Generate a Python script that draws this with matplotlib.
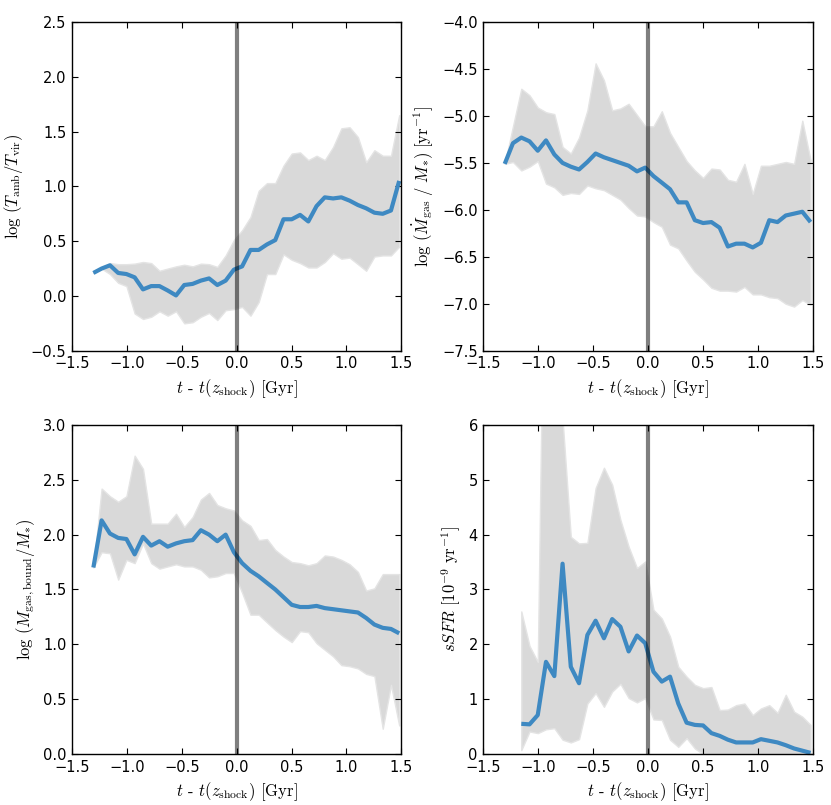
import matplotlib
matplotlib.use("Agg")
import matplotlib.pyplot as plt
from matplotlib.ticker import FuncFormatter
import numpy as np

plt.rcParams['mathtext.fontset'] = 'cm'
plt.rcParams['font.family'] = ['DejaVu Sans']

# time relative to shock [Gyr]
time = [-1.305, -1.230, -1.154, -1.079, -1.004, -0.929, -0.853, -0.778, -0.703, -0.628,
        -0.552, -0.477, -0.401, -0.326, -0.251, -0.176, -0.100, -0.025, 0.050, 0.126,
        0.201, 0.276, 0.352, 0.427, 0.502, 0.578, 0.653, 0.728, 0.803, 0.879,
        0.954, 1.029, 1.105, 1.180, 1.255, 1.331, 1.406, 1.481]
time_sfr = time[2:]

# Panel 1: log(T_amb/T_vir)
tamb_med = [0.21, 0.25, 0.28, 0.21, 0.20, 0.17, 0.06, 0.09, 0.09, 0.05,
            0.005, 0.10, 0.11, 0.14, 0.16, 0.10, 0.14, 0.24, 0.27, 0.42,
            0.42, 0.47, 0.51, 0.70, 0.70, 0.74, 0.68, 0.82, 0.90, 0.89,
            0.90, 0.87, 0.83, 0.80, 0.76, 0.75, 0.78, 1.05]
tamb_hi = [0.21, 0.25, 0.30, 0.29, 0.29, 0.295, 0.31, 0.30, 0.23, 0.25,
           0.27, 0.285, 0.27, 0.295, 0.29, 0.265, 0.37, 0.51, 0.60, 0.72,
           0.96, 1.03, 1.03, 1.19, 1.30, 1.31, 1.24, 1.28, 1.24, 1.36,
           1.53, 1.54, 1.45, 1.22, 1.33, 1.28, 1.28, 1.65]
tamb_lo = [0.21, 0.25, 0.20, 0.12, 0.09, -0.16, -0.21, -0.19, -0.14, -0.18,
           -0.14, -0.25, -0.24, -0.19, -0.155, -0.22, -0.13, -0.12, -0.10, -0.18,
           -0.055, 0.20, 0.20, 0.38, 0.33, 0.30, 0.26, 0.26, 0.31, 0.39,
           0.34, 0.35, 0.29, 0.23, 0.36, 0.37, 0.37, 0.45]

# Panel 2: log(Mdot_gas / M*) [1/yr]
mdot_med = [-5.51, -5.29, -5.23, -5.27, -5.37, -5.26, -5.41, -5.50, -5.54, -5.57,
            -5.49, -5.40, -5.44, -5.47, -5.50, -5.53, -5.59, -5.55, -5.64, -5.71,
            -5.78, -5.92, -5.92, -6.11, -6.14, -6.13, -6.19, -6.39, -6.36, -6.36,
            -6.40, -6.35, -6.11, -6.13, -6.06, -6.04, -6.02, -6.13]
mdot_hi = [-5.51, -5.11, -4.71, -4.78, -4.91, -4.96, -4.98, -5.33, -5.40, -5.23,
           -4.94, -4.44, -4.62, -4.94, -4.92, -4.87, -4.99, -5.11, -5.11, -4.95,
           -5.18, -5.33, -5.48, -5.58, -5.66, -5.56, -5.57, -5.68, -5.70, -5.51,
           -5.83, -5.53, -5.53, -5.51, -5.49, -5.51, -5.05, -5.47]
mdot_lo = [-5.51, -5.49, -5.58, -5.54, -5.48, -5.72, -5.76, -5.84, -5.82, -5.83,
           -5.74, -5.77, -5.79, -5.84, -5.89, -5.98, -6.06, -6.07, -6.13, -6.18,
           -6.37, -6.41, -6.54, -6.66, -6.74, -6.83, -6.86, -6.86, -6.87, -6.82,
           -6.90, -6.90, -6.93, -6.94, -7.00, -7.03, -6.96, -7.01]

# Panel 3: log(M_gas,bound / M*)
mgas_med = [1.70, 2.13, 2.01, 1.97, 1.96, 1.82, 1.98, 1.90, 1.94, 1.89,
            1.92, 1.94, 1.95, 2.04, 2.00, 1.94, 2.00, 1.84, 1.74, 1.67,
            1.62, 1.56, 1.50, 1.43, 1.36, 1.34, 1.34, 1.35, 1.33, 1.32,
            1.31, 1.30, 1.29, 1.24, 1.18, 1.15, 1.14, 1.10]
mgas_hi = [1.70, 2.42, 2.35, 2.30, 2.35, 2.72, 2.60, 2.10, 2.10, 2.10,
           2.19, 2.07, 2.16, 2.32, 2.38, 2.27, 2.24, 2.22, 2.13, 2.08,
           1.95, 1.96, 1.86, 1.80, 1.75, 1.74, 1.72, 1.74, 1.81, 1.80,
           1.77, 1.73, 1.66, 1.49, 1.51, 1.64, 1.64, 1.64]
mgas_lo = [1.70, 1.84, 1.83, 1.59, 1.77, 1.74, 1.92, 1.74, 1.69, 1.71,
           1.73, 1.71, 1.71, 1.68, 1.61, 1.62, 1.65, 1.65, 1.47, 1.27,
           1.27, 1.20, 1.13, 1.07, 1.02, 1.12, 1.11, 1.01, 0.95, 0.89,
           0.81, 0.80, 0.78, 0.73, 0.71, 0.23, 0.63, 0.26]

# Panel 4: sSFR [1e-9 / yr]
ssfr_med = [0.55, 0.54, 0.71, 1.68, 1.42, 3.47, 1.59, 1.29, 2.17, 2.43,
            2.11, 2.46, 2.32, 1.87, 2.16, 2.02, 1.50, 1.32, 1.41, 0.92,
            0.57, 0.53, 0.52, 0.38, 0.33, 0.26, 0.21, 0.21, 0.21, 0.27,
            0.24, 0.21, 0.16, 0.10, 0.06, 0.02]
ssfr_hi = [2.60, 1.97, 1.68, 12.0, 12.0, 6.1, 3.96, 3.84, 3.85, 4.85,
           5.22, 4.91, 4.27, 3.78, 3.39, 3.51, 2.63, 2.47, 2.14, 1.59,
           1.41, 1.26, 1.20, 1.22, 0.80, 0.81, 0.89, 0.92, 0.71, 0.83,
           0.89, 0.75, 1.08, 0.77, 0.68, 0.53]
ssfr_lo = [0.07, 0.41, 0.38, 0.45, 0.47, 0.26, 0.21, 0.27, 0.92, 1.11,
           0.86, 1.14, 1.28, 1.02, 0.94, 1.02, 0.63, 0.62, 0.26, 0.13,
           0.29, 0.10, 0.0, 0.0, 0.0, 0.0, 0.0, 0.0, 0.0, 0.0,
           0.0, 0.0, 0.0, 0.0, 0.0, 0.0]

xlabel = r'$t$ - $t(z_{\rm shock})$ [Gyr]'

panels = [
    dict(pos=[0.0866, 0.5643, 0.3963, 0.4083], t=time, med=tamb_med, hi=tamb_hi, lo=tamb_lo,
         ylim=(-0.5, 2.5), yticks=np.arange(-0.5, 2.51, 0.5), fmt='{:.1f}',
         ylabel=r'$\log\,(T_{\rm amb}/T_{\rm vir})$'),
    dict(pos=[0.5816, 0.5643, 0.3963, 0.4083], t=time, med=mdot_med, hi=mdot_hi, lo=mdot_lo,
         ylim=(-7.5, -4.0), yticks=np.arange(-7.5, -3.99, 0.5), fmt='{:.1f}',
         ylabel=r'$\log\,(\dot{M}_{\rm gas}\ /\ M_{*})\ [\rm yr^{-1}]$'),
    dict(pos=[0.0866, 0.0634, 0.3963, 0.4087], t=time, med=mgas_med, hi=mgas_hi, lo=mgas_lo,
         ylim=(0.0, 3.0), yticks=np.arange(0.0, 3.01, 0.5), fmt='{:.1f}',
         ylabel=r'$\log\,(M_{\rm gas,bound}/M_{*})$'),
    dict(pos=[0.5816, 0.0634, 0.3963, 0.4087], t=time_sfr, med=ssfr_med, hi=ssfr_hi, lo=ssfr_lo,
         ylim=(0, 6), yticks=np.arange(0, 7, 1), fmt='{:.0f}',
         ylabel=r'$sSFR\ [10^{-9}\ \rm yr^{-1}]$'),
]


def make_fmt(f):
    return FuncFormatter(lambda v, pos: f.format(v).replace('-', '\u2212'))


fig = plt.figure(figsize=(8.31, 8.05), dpi=100)
for i, p in enumerate(panels):
    ax = fig.add_axes(p['pos'])
    ax.fill_between(p['t'], p['lo'], p['hi'], facecolor='#d9d9d9', edgecolor='#e4e4e4',
                    linewidth=1.0, zorder=1)
    ax.plot(p['t'], p['med'], color='#3e89c2', linewidth=3.0, zorder=2, solid_capstyle='butt')
    ax.axvline(0.0, color='black', alpha=0.5, linewidth=3.0, zorder=3)
    ax.set_xlim(-1.5, 1.5)
    ax.set_ylim(*p['ylim'])
    ax.set_xticks(np.arange(-1.5, 1.51, 0.5))
    ax.set_yticks(p['yticks'])
    ax.xaxis.set_major_formatter(make_fmt('{:.1f}'))
    ax.yaxis.set_major_formatter(make_fmt(p['fmt']))
    ax.tick_params(direction='in', top=True, right=True, length=4, width=0.8,
                   labelsize=10.5, pad=4)
    for s in ax.spines.values():
        s.set_linewidth(1.0)
    ax.set_xlabel(xlabel, fontsize=12, fontfamily='cmr10')
    ax.set_ylabel(p['ylabel'], fontsize=12)

fig.savefig('out.png', dpi=100)
